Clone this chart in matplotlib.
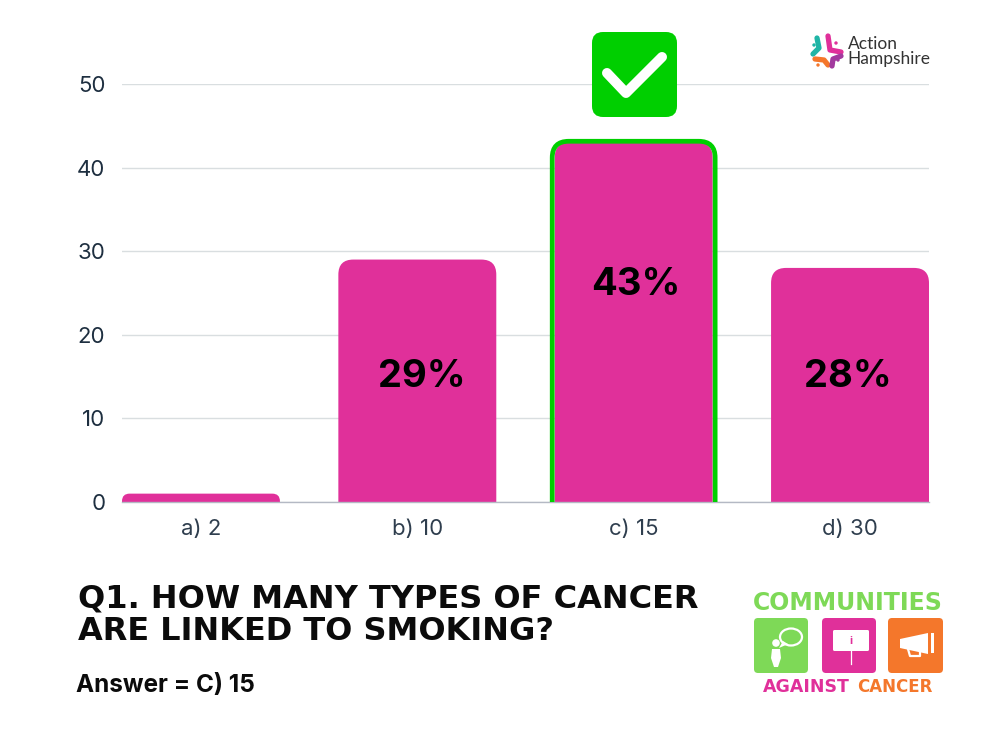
import matplotlib
matplotlib.use("Agg")
import matplotlib.pyplot as plt
from matplotlib.patches import FancyBboxPatch, Circle, Ellipse, Polygon, Rectangle

categories = ["a) 2", "b) 10", "c) 15", "d) 30"]
values = [1, 29, 43, 28]
labels = ["", "29%", "43%", "28%"]
correct = 2
yticks = [0, 10, 20, 30, 40, 50]

PINK = "#E0309A"
GREEN = "#00CF00"
LGREEN = "#7ED957"
ORANGE = "#F4772B"
TEAL = "#1FB5A6"
PURPLE = "#A23A9E"
NAVY = "#1E2F40"
FONT = "Inter"

fig = plt.figure(figsize=(10, 7.5), dpi=100, facecolor="white")
ax = fig.add_axes([0.122, 1 - 502 / 750, 0.807, (502 - 84) / 750])
ax.set_xlim(-0.365, 3.365)
ax.set_ylim(0, 50)
ax.set_yticks(yticks)
ax.set_xticks(range(len(categories)))
ax.set_xticklabels(categories, fontfamily=FONT, fontsize=16, color="#2F3E4E")
ax.tick_params(axis="x", length=0, pad=12)
ax.tick_params(axis="y", length=0, pad=12, labelsize=16, labelcolor=NAVY)
for t in ax.get_yticklabels():
    t.set_fontfamily(FONT)
ax.grid(axis="y", color="#D9DEE0", lw=1)
ax.set_axisbelow(True)
for s in ax.spines.values():
    s.set_visible(False)
ax.spines["bottom"].set_visible(True)
ax.spines["bottom"].set_color("#B4B9C4")
ax.spines["bottom"].set_linewidth(1)

px_x = 807 / 3.73
px_y = 418 / 50
aspect = px_x / px_y
rad = 15 / px_x
w = 0.73
for i, v in enumerate(values):
    r = min(rad, 0.035) if v < 3 else rad
    ax.add_patch(FancyBboxPatch((i - w / 2, -3), w, v + 3,
                                boxstyle=f"round,pad=0,rounding_size={r}",
                                mutation_aspect=aspect, fc=PINK, ec="none", zorder=2))
    if i == correct:
        wb = w + 5 / px_x
        ax.add_patch(FancyBboxPatch((i - wb / 2, -3), wb, v + 3 + 0.15,
                                    boxstyle=f"round,pad=0,rounding_size={rad * 1.1}",
                                    mutation_aspect=aspect, fc="none", ec=GREEN, lw=3.4, zorder=3))

label_y = [None, 15.0, 25.9, 15.0]
label_dx = [0, 0.02, 0.01, -0.012]
for i, t in enumerate(labels):
    if t:
        ax.text(i + label_dx[i], label_y[i], t, ha="center", va="center", fontfamily=FONT,
                fontweight="bold", fontsize=27.5, color="black", zorder=4)

# Overlay in reference pixel coordinates for decorations
ov = fig.add_axes([0, 0, 1, 1], facecolor="none")
ov.set_xlim(0, 1000)
ov.set_ylim(750, 0)
ov.axis("off")

def rbox(x0, y0, x1, y1, r, fc, ec="none", lw=0, z=5):
    ov.add_patch(FancyBboxPatch((x0, y0), x1 - x0, y1 - y0,
                                boxstyle=f"round,pad=0,rounding_size={r}",
                                fc=fc, ec=ec, lw=lw, zorder=z))

# Check mark
rbox(592, 32, 677, 117, 11, GREEN)
ov.plot([607, 626, 662], [73, 93, 57], color="white", lw=7.2, solid_capstyle="round",
        solid_joinstyle="round", zorder=6)

# Action Hampshire logo
for col, xs, ys in [(TEAL, [817, 819, 813], [38, 48, 54]),
                    (PINK, [828, 830, 841], [36, 50, 52]),
                    (ORANGE, [815, 824, 828], [59, 60, 65]),
                    (PURPLE, [841, 833, 832], [56, 59, 66])]:
    ov.plot(xs, ys, color=col, lw=3.8, solid_capstyle="round", solid_joinstyle="round", zorder=5)
for col, x, y in [(TEAL, 814, 45), (PINK, 836, 43), (ORANGE, 818, 65), (PURPLE, 838, 60)]:
    ov.add_patch(Circle((x, y), 1.7, fc=col, ec="none", zorder=5))
ov.text(848, 44, "Action", fontfamily="Lato", fontsize=12.5, color="#333333", va="center", ha="left")
ov.text(847, 59, "Hampshire", fontfamily="Lato", fontsize=12.5, color="#333333", va="center", ha="left")

# Question text
ov.text(78, 599, "Q1. HOW MANY TYPES OF CANCER", fontfamily="DejaVu Sans", fontweight="bold", fontsize=23,
        color="#0B0B0B", va="center", ha="left")
ov.text(78, 632, "ARE LINKED TO SMOKING?", fontfamily="DejaVu Sans", fontweight="bold", fontsize=23,
        color="#0B0B0B", va="center", ha="left")
ov.text(76, 685.5, "Answer = C) 15", fontfamily=FONT, fontweight="bold", fontsize=17.5,
        color="#0B0B0B", va="center", ha="left")

# Communities Against Cancer logo
ov.text(847.5, 602.5, "COMMUNITIES", fontfamily="DejaVu Sans", fontweight="bold", fontsize=17, color=LGREEN,
        va="center", ha="center")
ov.text(763, 687, "AGAINST", fontfamily="DejaVu Sans", fontweight="bold", fontsize=12.5, color=PINK,
        va="center", ha="left")
ov.text(933, 687, "CANCER", fontfamily="DejaVu Sans", fontweight="bold", fontsize=12, color=ORANGE,
        va="center", ha="right")
rbox(754, 618, 808, 673, 4, LGREEN)
rbox(822, 618, 876, 673, 4, PINK)
rbox(888, 618, 943, 673, 4, ORANGE)
ov.add_patch(Ellipse((791, 637), 22, 17, fc="none", ec="white", lw=1.6, zorder=6))
ov.add_patch(Polygon([[783, 641], [779, 648], [788, 644]], fc="white", ec="none", zorder=6))
ov.add_patch(Circle((776, 643), 3.8, fc="white", ec="none", zorder=6))
ov.add_patch(Polygon([[772, 649], [780, 649], [781, 658], [778, 667], [774, 667], [771, 658]],
                     fc="white", ec="none", zorder=6))
rbox(833, 630, 869, 651, 1.5, "white", z=6)
ov.plot([851, 851], [651, 664], color="white", lw=0.9, zorder=6)
ov.text(851, 640.5, "i", fontfamily=FONT, fontweight="bold", fontsize=8, color=PINK,
        ha="center", va="center", zorder=7)
ov.add_patch(Polygon([[900, 639], [928, 633], [928, 654], [900, 648]], fc="white", ec="none", zorder=6))
ov.add_patch(Rectangle((931, 633), 2.5, 20, fc="white", ec="none", zorder=6))
ov.plot([908, 910, 920, 920], [649, 656, 656, 652], color="white", lw=1.6, zorder=6)

fig.savefig("out.png", dpi=100)
